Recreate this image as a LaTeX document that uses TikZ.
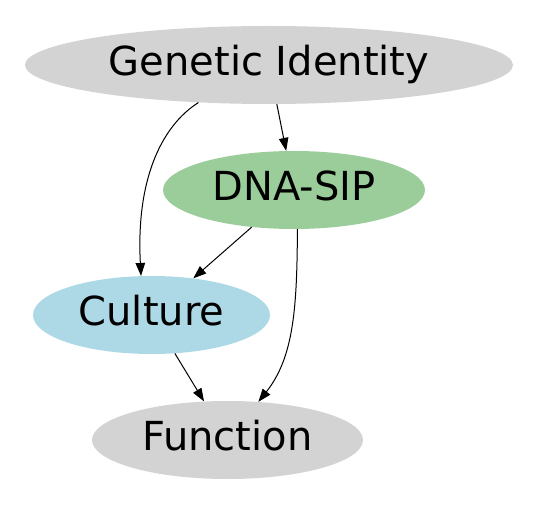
\documentclass[tikz,border=0pt]{standalone}
\usepackage{fontspec}
\setmainfont{DejaVu Sans}
\usetikzlibrary{shapes.geometric,arrows.meta}
\definecolor{nodegray}{HTML}{D3D3D3}
\definecolor{nodegreen}{HTML}{9BCD9B}
\definecolor{nodeblue}{HTML}{ADD8E6}
\tikzset{
  blob/.style={ellipse, inner sep=0pt, minimum height=78pt,
    font=\fontsize{40pt}{48pt}\selectfont, text height=30pt, text depth=9.4pt},
  arr/.style={line width=1pt, -{Triangle[length=13pt,width=9.5pt]}}
}
\begin{document}
\begin{tikzpicture}[x=1pt,y=1pt]
\useasboundingbox (0,0) rectangle (539,507);
\node[blob, fill=nodegray, minimum width=488pt] (gi) at (269,442) {Genetic Identity};
\node[blob, fill=nodegreen, minimum width=262pt] (dna) at (294,317) {DNA-SIP};
\node[blob, fill=nodeblue, minimum width=237pt] (cu) at (151.5,192) {Culture};
\node[blob, fill=nodegray, minimum width=271pt] (fn) at (227.5,67) {Function};
\draw[arr] (gi) -- (dna);
\draw[arr] (gi.208) .. controls (160,380) and (136,325) .. (cu.105);
\draw[arr] (dna) -- (cu);
\draw[arr] (dna.275) .. controls (297,200) and (294,150) .. (fn.51);
\draw[arr] (cu) -- (fn);
\end{tikzpicture}
\end{document}
